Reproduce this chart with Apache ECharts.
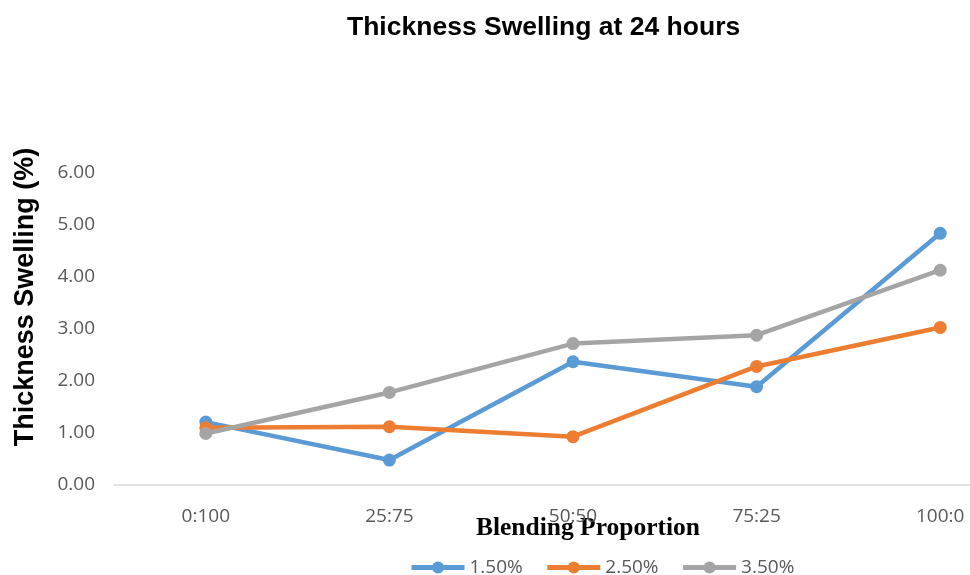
<!DOCTYPE html>
<html><head><meta charset="utf-8">
<script src="https://cdn.jsdelivr.net/npm/echarts@6/dist/echarts.min.js"></script>
<style>html,body{margin:0;padding:0;background:#fff}#c{width:970px;height:575px}</style>
</head><body><div id="c"></div>
<script>
var categories = ['0:100', '25:75', '50:50', '75:25', '100:0'];
var s150 = [1.21, 0.48, 2.37, 1.89, 4.84];
var s250 = [1.10, 1.12, 0.93, 2.28, 3.03];
var s350 = [0.99, 1.78, 2.72, 2.88, 4.13];
var seriesNames = ['1.50%', '2.50%', '3.50%'];
var colors = ['#5b9bd5', '#ed7d31', '#a5a5a5'];

var chart = echarts.init(document.getElementById('c'));
function mk(name, data, color) {
  return {
    name: name, type: 'line', data: data,
    symbol: 'circle', symbolSize: 13,
    lineStyle: { width: 4.5, color: color },
    itemStyle: { color: color },
    emphasis: { disabled: true }
  };
}
chart.setOption({
  animation: false,
  title: {
    text: 'Thickness Swelling at 24 hours',
    left: 342, top: 9,
    textStyle: { fontFamily: 'Liberation Sans', fontWeight: 'bold', fontSize: 26.5, color: '#000' }
  },
  legend: {
    top: 553, left: 404,
    itemWidth: 53, itemHeight: 15, itemGap: 22,
    lineStyle: { width: 5 },
    textStyle: { fontFamily: 'Open Sans', fontSize: 19, color: '#595959' },
    data: seriesNames
  },
  grid: { left: 114, width: 918, top: 173, bottom: 90, containLabel: false, outerBoundsMode: 'none' },
  xAxis: {
    type: 'category', data: categories, boundaryGap: true,
    name: 'Blending Proportion', nameLocation: 'middle', nameGap: 30, nameMoveOverlap: false,
    nameTextStyle: { fontFamily: 'Liberation Serif', fontWeight: 'bold', fontSize: 25.5, color: '#000', padding: [0, 0, 0, 30] },
    axisLine: { lineStyle: { color: '#d9d9d9', width: 1.5 } },
    axisTick: { show: false },
    axisLabel: { fontFamily: 'Open Sans', fontSize: 19, color: '#595959', margin: 22 },
    splitLine: { show: false }
  },
  yAxis: {
    type: 'value', min: 0, max: 6, interval: 1,
    name: 'Thickness Swelling (%)', nameLocation: 'middle', nameGap: 75,
    nameTextStyle: { fontFamily: 'Liberation Sans', fontWeight: 'bold', fontSize: 27, color: '#000', padding: [0, 0, 0, 64] },
    axisLine: { show: false }, axisTick: { show: false },
    splitLine: { show: false },
    axisLabel: { fontFamily: 'Open Sans', fontSize: 19, color: '#595959', margin: 19,
      formatter: function (v) { return v.toFixed(2); } }
  },
  series: [mk(seriesNames[0], s150, colors[0]), mk(seriesNames[1], s250, colors[1]), mk(seriesNames[2], s350, colors[2])]
});
</script></body></html>
